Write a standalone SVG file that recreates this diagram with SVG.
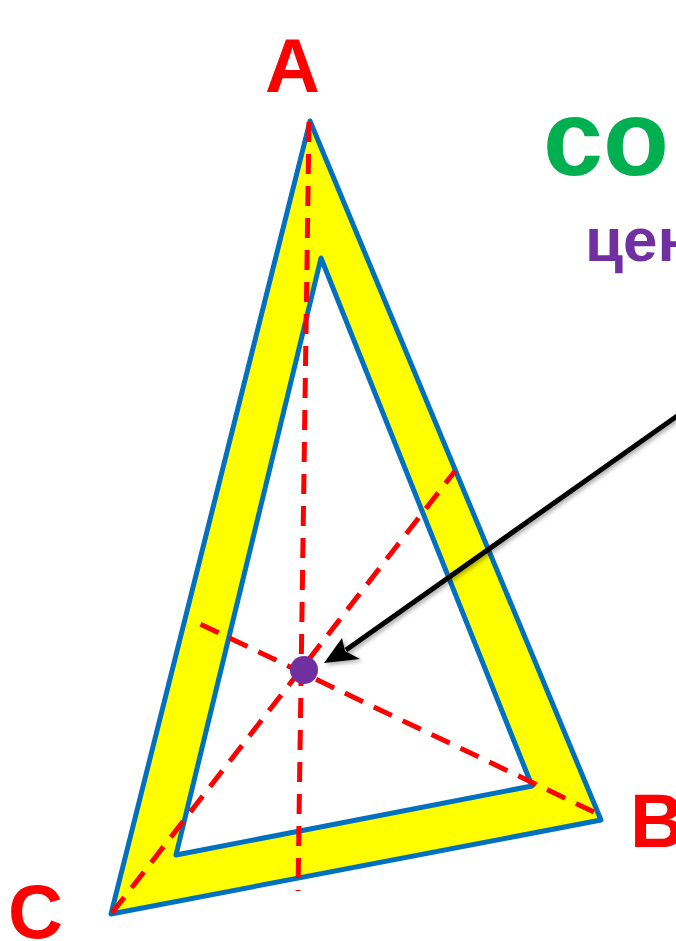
<svg xmlns="http://www.w3.org/2000/svg" width="676" height="941" viewBox="0 0 676 941">
<defs>
<style>
.lbl{font-family:"Liberation Sans",Arial,sans-serif;font-weight:bold;fill:#FF0000;font-size:76px}
.tri{stroke:#0070C0;stroke-width:5;stroke-linejoin:round}
.med{stroke:#FF0000;stroke-width:5;stroke-dasharray:20 12;fill:none}
</style>
<filter id="sh" x="-20%" y="-20%" width="140%" height="140%">
<feDropShadow dx="2" dy="2" stdDeviation="2" flood-color="#000" flood-opacity="0.35"/>
</filter>
</defs>
<rect width="676" height="941" fill="#fff"/>
<g id="triangle">
<polygon class="tri" points="310,121 601,820 111,914" fill="#FFFF00"/>
<polygon class="tri" points="321,258 532,786 176,855" fill="#FFFFFF"/>
</g>
<g id="medians">
<line class="med" x1="309" y1="122" x2="298" y2="891"/>
<line class="med" x1="112" y1="913" x2="455" y2="471"/>
<line class="med" x1="594" y1="812" x2="196" y2="622"/>
</g>
<g id="connectors" filter="url(#sh)">
<line x1="680" y1="414" x2="346" y2="650" stroke="#000" stroke-width="5"/>
<polygon points="324,663 342,638 345,651 360,659" fill="#000"/>
</g>
<g id="centroid">
<circle cx="304" cy="670" r="14" fill="#7030A0"/>
</g>
<g id="labels">
<text class="lbl" x="265" y="92">A</text>
<text class="lbl" x="630" y="847">B</text>
<text class="lbl" x="8" y="938">C</text>
<text x="543" y="175" font-family="'Liberation Sans',Arial,sans-serif" font-weight="bold" font-size="108" fill="#00B050">со</text>
<text x="585" y="261" font-family="'Liberation Sans',Arial,sans-serif" font-weight="bold" font-size="62" fill="#7030A0">цен</text>
</g>
</svg>
